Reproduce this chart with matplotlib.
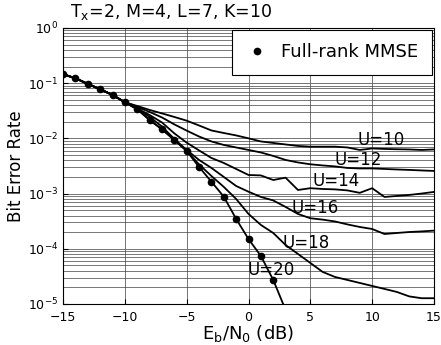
import numpy as np
import matplotlib
matplotlib.use('Agg')
import matplotlib.pyplot as plt

snr=np.arange(-15,16)

# full-rank MMSE points (-15..3 dB)
snr_full=np.arange(-15,4)
ber_full=[0.1449,0.1227,0.0967,0.0775,0.0611,0.0451,0.0337,0.0215,0.0146,0.00935,
          0.00591,0.00303,0.00164,8.79e-4,3.47e-4,1.50e-4,7.41e-5,2.72e-5,7.8e-6]

start=[0.1449,0.1227,0.0967,0.0775,0.0611,0.0451]   # -15..-10, all curves together

ber_u10=start+[0.0386,0.0327,0.0283,0.0244,0.0209,0.0171,0.0139,0.0125,0.0113,0.0100,
               0.00879,0.00825,0.00775,0.00728,0.00707,0.00707,0.00707,0.00684,0.00616,0.00656,
               0.00643,0.00635,0.00629,0.00616,0.00629]
ber_u12=start+[0.0371,0.0301,0.0239,0.0179,0.0138,0.0108,0.00879,0.00759,0.00684,0.00616,
               0.00555,0.00480,0.00406,0.00366,0.00339,0.00323,0.00310,0.00291,0.00285,0.00285,
               0.00279,0.00273,0.00268,0.00262,0.00257]
ber_u14=start+[0.0348,0.0265,0.0194,0.0123,0.00836,0.00604,0.00441,0.00358,0.00279,0.00217,
               0.00213,0.00176,0.00194,0.00116,0.00125,0.00121,0.00119,0.00114,0.00103,0.00125,
               8.68e-4,9.05e-4,9.43e-4,1.00e-3,1.07e-3]
ber_u16=start+[0.0341,0.0244,0.0164,0.00975,0.00616,0.00406,0.00291,0.00200,0.00137,0.00108,
               8.68e-4,7.50e-4,5.72e-4,4.27e-4,3.57e-4,3.37e-4,3.12e-4,2.76e-4,2.48e-4,2.28e-4,
               1.85e-4,1.93e-4,2.01e-4,2.06e-4,2.13e-4]
ber_u18=start+[0.0337,0.0215,0.0146,0.00935,0.00591,0.00337,0.00208,0.00132,7.98e-4,4.27e-4,
               2.70e-4,1.93e-4,1.17e-4,8.05e-5,5.53e-5,3.80e-5,3.08e-5,2.72e-5,2.40e-5,2.12e-5,
               1.87e-5,1.65e-5,1.37e-5,1.27e-5,1.27e-5]
ber_u20=ber_full

curves=[(snr,ber_u10),(snr,ber_u12),(snr,ber_u14),(snr,ber_u16),(snr,ber_u18),(snr_full,ber_u20)]

labels=['U=10','U=12','U=14','U=16','U=18','U=20']
label_x=[10.7,8.85,7.07,5.37,4.64,1.8]
label_y=[0.0094,0.0041,0.0017,5.5e-4,1.27e-4,4.13e-5]

fig=plt.figure(figsize=(4.41,3.45),dpi=100)
ax=fig.add_axes([0.143,0.119,0.841,0.800])

for x,y in curves:
    ax.semilogy(x,y,color='k',lw=1.3)
ax.semilogy(snr_full,ber_full,'o',color='k',ms=4.5,label='Full-rank MMSE')

for t,x,y in zip(labels,label_x,label_y):
    ax.text(x,y,t,fontsize=12,ha='center',va='center')

ax.set_xlim(-15,15)
ax.set_ylim(1e-5,1)
ax.set_xticks([-15,-10,-5,0,5,10,15])
ax.grid(True,which='major',color='0.45',lw=0.7)
ax.grid(True,which='minor',axis='y',color='0.25',lw=0.5)
ax.tick_params(which='both',direction='in',labelsize=9)
ax.tick_params(axis='x',pad=5)
ax.tick_params(which='minor',length=0)
ax.set_xlabel('E$_\\mathregular{b}$/N$_\\mathregular{0}$ (dB)',fontsize=13,labelpad=-1)
ax.set_ylabel('Bit Error Rate',fontsize=12,labelpad=2)
ax.text(0.02,1.02,'T$_\\mathregular{x}$=2, M=4, L=7, K=10',transform=ax.transAxes,fontsize=12.5,va='bottom')

leg=ax.legend(loc='upper right',fontsize=13,fancybox=False,framealpha=1,edgecolor='k',
              handletextpad=0.7,borderpad=0.75,handlelength=1.3,borderaxespad=0.1)
leg.get_frame().set_linewidth(0.8)

fig.savefig('out.png',dpi=100)
